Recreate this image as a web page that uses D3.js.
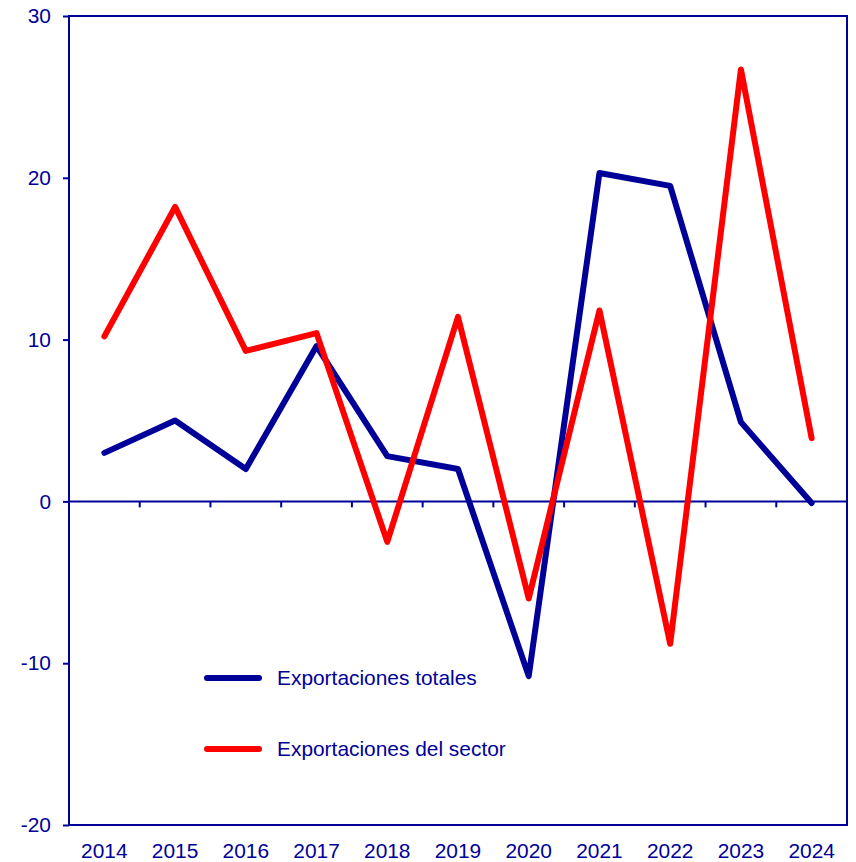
<!DOCTYPE html>
<html><head><meta charset="utf-8">
<script src="https://cdn.jsdelivr.net/npm/d3@7"></script>
<style>body{margin:0;background:#fff}svg{display:block}</style>
</head><body><svg id="c" width="856" height="862"></svg>
<script>
const years = ["2014","2015","2016","2017","2018","2019","2020","2021","2022","2023","2024"];
const totales = [3.0,5.0,2.0,9.6,2.8,2.0,-10.8,20.3,19.5,4.9,-0.1];
const sector = [10.2,18.2,9.3,10.4,-2.5,11.4,-6.0,11.8,-8.8,26.7,3.9];
const yTicks = [-20,-10,0,10,20,30];
const seriesNames = ["Exportaciones totales","Exportaciones del sector"];
const colors = ["#000099","#ff0000"];

const svg = d3.select("#c");
const L=69, R=847, T=16, B=825;
const x = d3.scaleBand().domain(years).range([L,R]);
const y = d3.scaleLinear().domain([-20,30]).range([B,T]);
const navy="#000099";
const font="Liberation Sans, Arial, sans-serif";
const fs="20.9px";

// frame
svg.append("rect").attr("x",L).attr("y",T).attr("width",R-L).attr("height",B-T)
  .attr("fill","none").attr("stroke",navy).attr("stroke-width",2);

// y axis
const ya = svg.append("g").attr("transform",`translate(${L},0)`)
  .call(d3.axisLeft(y).tickValues(yTicks).tickSize(6).tickPadding(12).tickFormat(d=>String(d)));
ya.select(".domain").remove();
ya.selectAll("line").attr("stroke",navy).attr("stroke-width",2);
ya.selectAll("text").attr("fill",navy).style("font-family",font).style("font-size",fs);

// zero line with x ticks
const xa = svg.append("g").attr("transform",`translate(0,${y(0)})`)
  .call(d3.axisBottom(x).tickSize(0).tickFormat(""));
xa.select(".domain").attr("stroke",navy).attr("stroke-width",2).attr("d",`M${L},0H${R}`);
xa.selectAll(".tick").remove();
const bounds = years.slice(1).map(d=>x(d));
xa.selectAll("line.sep").data(bounds).enter().append("line")
  .attr("x1",d=>d).attr("x2",d=>d).attr("y1",0).attr("y2",6)
  .attr("stroke",navy).attr("stroke-width",2);

// x labels
svg.append("g").selectAll("text").data(years).enter().append("text")
  .attr("x",d=>x(d)+x.bandwidth()/2).attr("y",858)
  .attr("text-anchor","middle").attr("fill",navy)
  .style("font-family",font).style("font-size",fs).text(d=>d);

// lines
const line = d3.line().x((d,i)=>x(years[i])+x.bandwidth()/2).y(d=>y(d));
[totales,sector].forEach((s,k)=>{
  svg.append("path").datum(s).attr("d",line).attr("fill","none")
    .attr("stroke",colors[k]).attr("stroke-width",6)
    .attr("stroke-linejoin","round").attr("stroke-linecap","round");
});

// legend
const legY=[678,749];
seriesNames.forEach((n,k)=>{
  svg.append("line").attr("x1",207).attr("x2",259).attr("y1",legY[k]).attr("y2",legY[k])
    .attr("stroke",colors[k]).attr("stroke-width",6).attr("stroke-linecap","round");
  svg.append("text").attr("x",277).attr("y",legY[k]).attr("dy","0.35em")
    .attr("fill",navy).style("font-family",font).style("font-size",fs).text(n);
});
</script></body></html>
